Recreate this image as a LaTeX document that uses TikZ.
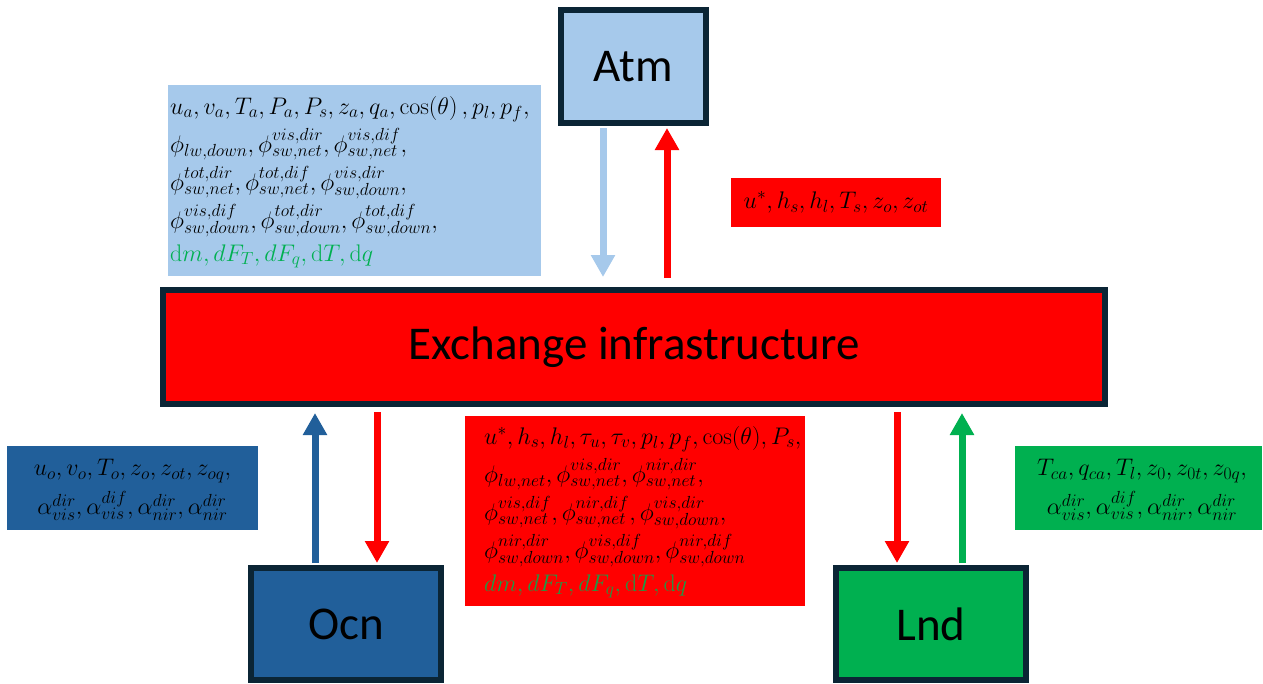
\documentclass[tikz,border=0pt]{standalone}
\usepackage{fix-cm}
\usepackage[no-math]{fontspec}
\setmainfont{Carlito}
\usetikzlibrary{arrows.meta}
\DeclareMathSizes{24}{24}{17.5}{13}
\definecolor{lblue}{HTML}{A6C9EB}
\definecolor{ored}{HTML}{FF0000}
\definecolor{oblue}{HTML}{215F9A}
\definecolor{ogreen}{HTML}{00B050}
\definecolor{gtxt}{HTML}{00B050}
\definecolor{rtxt}{HTML}{1E9A45}
\definecolor{border}{HTML}{0B2535}
\begin{document}
\begin{tikzpicture}[x=1pt,y=-1pt,
  model/.style={draw=border,line width=6pt,inner sep=0pt,font=\fontsize{47}{52}\selectfont},
  lbl/.style={inner sep=0pt,align=left,anchor=north west},
  arr/.style={line width=7pt,-{Triangle[width=23pt,length=22pt]}},
  mfont/.style={font=\fontsize{24}{38}\selectfont},
  sfont/.style={font=\fontsize{24}{39}\selectfont}]
\useasboundingbox (0,0) rectangle (1263,683);
% models
\node[model,fill=ored,minimum width=942pt,minimum height=114pt] (ex) at (634,347) {Exchange infrastructure};
\node[model,fill=lblue,minimum width=145pt,minimum height=113pt] (atm) at (633.5,66.5) {Atm};
\node[model,fill=oblue,minimum width=190pt,minimum height=112pt] (ocn) at (346,624) {Ocn};
\node[model,fill=ogreen,minimum width=190pt,minimum height=112pt] (lnd) at (931,624) {Lnd};
% variable boxes
\node[fill=lblue,minimum width=373pt,minimum height=191pt,anchor=north west,inner sep=0pt] (va) at (168,85) {};
\node[lbl,mfont] (ta) at (170,96) {%
$u_a, v_a, T_a, P_a, P_s, z_a, q_a, \cos(\theta)\,, p_l, p_f,$\\
$\phi_{lw,down}, \phi^{vis,dir}_{sw,net}, \phi^{vis,dif}_{sw,net},$\\
$\phi^{tot,dir}_{sw,net}, \phi^{tot,dif}_{sw,net}, \phi^{vis,dir}_{sw,down},$\\
$\phi^{vis,dif}_{sw,down}, \phi^{tot,dir}_{sw,down}, \phi^{tot,dif}_{sw,down},$\\[-5pt]
\color{gtxt}$\mathrm{d}m, dF_T, dF_q, \mathrm{d}T, \mathrm{d}q$};
\node[fill=ored,minimum width=210pt,minimum height=49pt,inner sep=0pt,mfont] (vr) at (836,202.5) {$u^*, h_s, h_l, T_s, z_o, z_{ot}$};
\node[fill=ored,minimum width=340pt,minimum height=190pt,anchor=north west,inner sep=0pt] (vx) at (465,416) {};
\node[lbl,mfont] (tx) at (484,426) {%
$u^*, h_s, h_l, \tau_u, \tau_v, p_l, p_f, \cos(\theta), P_s,$\\
$\phi_{lw,net}, \phi^{vis,dir}_{sw,net}, \phi^{nir,dir}_{sw,net},$\\
$\phi^{vis,dif}_{sw,net}, \phi^{nir,dif}_{sw,net}, \phi^{vis,dir}_{sw,down},$\\
$\phi^{nir,dir}_{sw,down}, \phi^{vis,dif}_{sw,down}, \phi^{nir,dif}_{sw,down}$\\[-5pt]
\color{rtxt}$dm, dF_T, dF_q, \mathrm{d}T, \mathrm{d}q$};
\node[fill=oblue,minimum width=251pt,minimum height=84pt,inner sep=0pt] (vo) at (132.5,488) {};
\node[sfont,align=center,inner sep=0pt] (to) at (132.5,490) {%
$u_o, v_o, T_o, z_o, z_{ot}, z_{oq},$\\
$\alpha^{dir}_{vis}, \alpha^{dif}_{vis}, \alpha^{dir}_{nir}, \alpha^{dir}_{nir}$};
\node[fill=ogreen,minimum width=247pt,minimum height=84pt,inner sep=0pt] (vl) at (1138.5,488) {};
\node[sfont,align=center,inner sep=0pt] (tl) at (1142,490) {%
$T_{ca}, q_{ca}, T_l, z_0, z_{0t}, z_{0q},$\\
$\alpha^{dir}_{vis}, \alpha^{dif}_{vis}, \alpha^{dir}_{nir}, \alpha^{dir}_{nir}$};
% arrows
\draw[arr,lblue,shorten <=2pt,shorten >=10pt] ([xshift=-30.5pt]atm.south) -- ([xshift=-31pt]ex.north);
\draw[arr,ored,shorten <=9pt,shorten >=2pt] ([xshift=33pt]ex.north) -- ([xshift=33.5pt]atm.south);
\draw[arr,oblue,shorten <=2pt,shorten >=6pt] ([xshift=-31pt]ocn.north) -- ([xshift=-319pt]ex.south);
\draw[arr,ored,shorten <=5pt,shorten >=2pt] ([xshift=-257pt]ex.south) -- ([xshift=31pt]ocn.north);
\draw[arr,ored,shorten <=5pt,shorten >=2pt] ([xshift=263pt]ex.south) -- ([xshift=-34pt]lnd.north);
\draw[arr,ogreen,shorten <=2pt,shorten >=6pt] ([xshift=31pt]lnd.north) -- ([xshift=328pt]ex.south);
\end{tikzpicture}
\end{document}
